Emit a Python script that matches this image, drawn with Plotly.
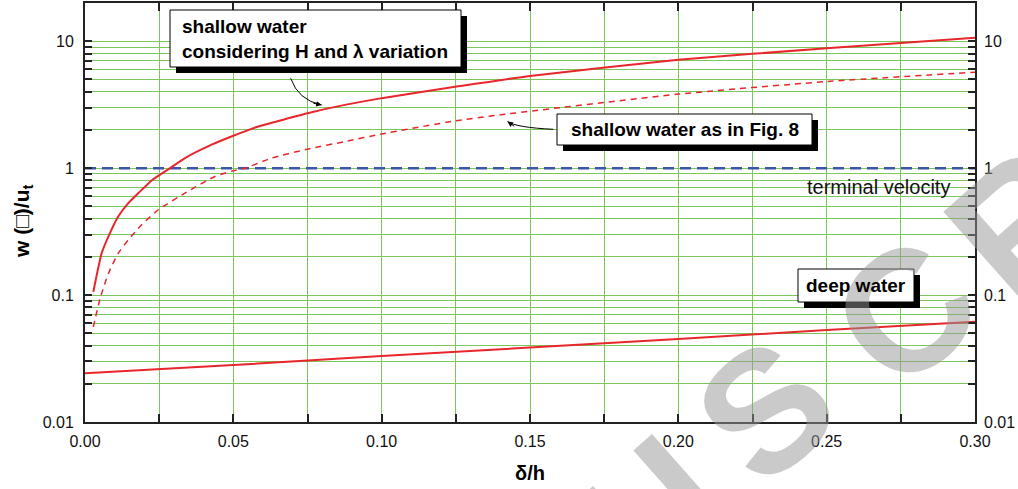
import math
import plotly.graph_objects as go

# ---------------- data ----------------
x_shallow_H = [0.0028, 0.0056, 0.0084, 0.0112, 0.0146, 0.018, 0.0225, 0.0287, 0.0337, 0.0427, 0.05,
               0.0584, 0.0674, 0.075, 0.0876, 0.10, 0.1253, 0.15, 0.20, 0.25, 0.30]
y_shallow_H = [0.106, 0.213, 0.308, 0.416, 0.53, 0.636, 0.80, 1.0, 1.20, 1.53, 1.80,
               2.13, 2.43, 2.71, 3.15, 3.56, 4.39, 5.33, 7.13, 8.81, 10.66]

x_shallow_fig8 = [0.0028, 0.0051, 0.0079, 0.0112, 0.0146, 0.0191, 0.0247, 0.0337, 0.0438, 0.05, 0.054,
                  0.0629, 0.075, 0.0876, 0.10, 0.125, 0.14, 0.20, 0.25, 0.30]
y_shallow_fig8 = [0.056, 0.094, 0.148, 0.213, 0.272, 0.358, 0.47, 0.636, 0.86, 0.953, 1.0,
                  1.20, 1.41, 1.62, 1.86, 2.36, 2.63, 3.83, 4.81, 5.70]

x_deep = [0.0, 0.05, 0.10, 0.15, 0.20, 0.25, 0.30]
y_deep = [0.0242, 0.0281, 0.0331, 0.0385, 0.0451, 0.053, 0.0616]

x_terminal = [0.0, 0.30]
y_terminal = [1.0, 1.0]

x_ticks = [0.0, 0.025, 0.05, 0.075, 0.10, 0.125, 0.15, 0.175, 0.20, 0.225, 0.25, 0.275, 0.30]
x_ticktext = ["0.00", "", "0.05", "", "0.10", "", "0.15", "", "0.20", "", "0.25", "", "0.30"]
y_major = [0.01, 0.1, 1, 10]
y_major_text = ["0.01", "0.1", "1", "10"]

# ---------------- layout geometry ----------------
W, H = 1018, 489
L, R, T, B = 85, 975, 3, 422
PW, PH = R - L, B - T

def px(xp):
    return (xp - L) / PW

def py(yp):
    return (B - yp) / PH

FONT = "Liberation Sans, Arial, Helvetica, sans-serif"
GRID = "#7cc75a"
RED = "#e8262b"
BLUE = "#3d55a8"

# minor log ticks (1..9 per decade) up to 20
y_ticks, y_ticktext = [], []
for e in range(-2, 2):
    for m in range(1, 10):
        v = m * 10 ** e
        y_ticks.append(v)
        y_ticktext.append(y_major_text[y_major.index(v)] if v in y_major else "")
y_ticks.append(20)
y_ticktext.append("")

fig = go.Figure()
fig.add_trace(go.Scatter(x=x_terminal, y=y_terminal, mode="lines",
                         line=dict(color=BLUE, width=2.5, dash="11px,6px"),
                         showlegend=False, hoverinfo="skip"))
fig.add_trace(go.Scatter(x=x_deep, y=y_deep, mode="lines",
                         line=dict(color=RED, width=2), showlegend=False))
fig.add_trace(go.Scatter(x=x_shallow_fig8, y=y_shallow_fig8, mode="lines",
                         line=dict(color=RED, width=1.5, dash="6px,5px", shape="spline", smoothing=0.6),
                         showlegend=False))
fig.add_trace(go.Scatter(x=x_shallow_H, y=y_shallow_H, mode="lines",
                         line=dict(color=RED, width=2, shape="spline", smoothing=0.5),
                         showlegend=False))
# invisible trace to activate right-hand axis
fig.add_trace(go.Scatter(x=[0.1], y=[1], yaxis="y2", mode="markers",
                         marker=dict(opacity=0), showlegend=False, hoverinfo="skip"))

tickfont = dict(family=FONT, size=16, color="#111")

fig.update_layout(
    width=W, height=H,
    margin=dict(l=L, r=W - R, t=T, b=H - B, autoexpand=False),
    paper_bgcolor="white", plot_bgcolor="white",
    xaxis=dict(range=[0, 0.30], tickvals=x_ticks, ticktext=x_ticktext,
               ticks="inside", ticklen=8, tickwidth=1.5, tickcolor="#222",
               showline=True, linewidth=2, linecolor="#222", mirror="ticks",
               showgrid=True, gridcolor=GRID, gridwidth=1, zeroline=False,
               tickfont=tickfont, ticklabelstandoff=4, automargin=False),
    yaxis=dict(type="log", range=[-2, math.log10(20)], tickvals=y_ticks, ticktext=y_ticktext,
               ticks="inside", ticklen=7, tickwidth=1.5, tickcolor="#222",
               showline=True, linewidth=2, linecolor="#222", mirror="ticks",
               showgrid=True, gridcolor=GRID, gridwidth=1, zeroline=False,
               tickfont=tickfont, ticklabelstandoff=6, automargin=False),
    yaxis2=dict(type="log", range=[-2, math.log10(20)], overlaying="y", side="right",
                tickvals=y_major, ticktext=y_major_text, ticks="", showgrid=False,
                showline=False, zeroline=False, tickfont=tickfont, ticklabelstandoff=8,
                automargin=False),
)

shapes = []
annotations = []

# watermark letters
wm_letters = [("U", 652, 512), ("S", 765, 410), ("C", 905, 312), ("R", 1020, 222)]
for ch, cx, cy in wm_letters:
    annotations.append(dict(text=ch, x=px(cx), y=py(cy), xref="paper", yref="paper",
                            xanchor="center", yanchor="middle", showarrow=False, textangle=-41.5,
                            font=dict(family=FONT, size=172, color="rgba(150,150,150,0.5)", weight="bold")))

def box(x0, y0, x1, y1, off=6):
    shapes.append(dict(type="rect", xref="paper", yref="paper",
                       x0=px(x0 + off), x1=px(x1 + off), y0=py(y0 + off), y1=py(y1 + off),
                       fillcolor="black", line=dict(width=0), layer="above"))
    shapes.append(dict(type="rect", xref="paper", yref="paper",
                       x0=px(x0), x1=px(x1), y0=py(y0), y1=py(y1),
                       fillcolor="white", line=dict(color="black", width=1), layer="above"))

box(170, 10, 461, 67)
box(557, 114, 812, 145)
box(798, 269, 914, 302)

boldfont = dict(family=FONT, size=19, color="black", weight="bold")
annotations.append(dict(text="shallow water", x=px(180), y=py(26.5), xref="paper", yref="paper",
                        xanchor="left", yanchor="middle", showarrow=False, font=boldfont))
annotations.append(dict(text="considering H and λ variation", x=px(180), y=py(52), xref="paper", yref="paper",
                        xanchor="left", yanchor="middle", showarrow=False, font=boldfont))
annotations.append(dict(text="shallow water as in Fig. 8", x=px(684.5), y=py(129.5), xref="paper", yref="paper",
                        xanchor="center", yanchor="middle", showarrow=False, font=boldfont))
annotations.append(dict(text="deep water", x=px(856), y=py(285.5), xref="paper", yref="paper",
                        xanchor="center", yanchor="middle", showarrow=False, font=boldfont))
annotations.append(dict(text="terminal velocity", x=px(952), y=py(187), xref="paper", yref="paper",
                        xanchor="right", yanchor="middle", showarrow=False,
                        font=dict(family=FONT, size=20, color="#111")))

# curved leader lines with arrowheads
def curve(p0, c, p1):
    shapes.append(dict(type="path", xref="paper", yref="paper", layer="above",
                       path=f"M {px(p0[0])} {py(p0[1])} Q {px(c[0])} {py(c[1])} {px(p1[0])} {py(p1[1])}",
                       line=dict(color="black", width=1)))
    dx, dy = p1[0] - c[0], p1[1] - c[1]
    n = math.hypot(dx, dy)
    annotations.append(dict(text="", x=px(p1[0]), y=py(p1[1]), xref="paper", yref="paper",
                            showarrow=True, ax=-10 * dx / n, ay=-10 * dy / n,
                            arrowhead=2, arrowsize=1.1, arrowwidth=1, arrowcolor="black", standoff=0))

curve((290.7, 78.3), (298, 100), (321.7, 105))
curve((553.3, 129.3), (516, 127.5), (507.5, 121.5))

# axis titles
annotations.append(dict(text="δ/h", x=px(530), y=py(473), xref="paper", yref="paper",
                        xanchor="center", yanchor="middle", showarrow=False,
                        font=dict(family=FONT, size=20, color="black", weight="bold")))
annotations.append(dict(text="w (□)/u<sub>t</sub>", x=px(23), y=py(221), xref="paper", yref="paper",
                        xanchor="center", yanchor="middle", showarrow=False, textangle=-90,
                        font=dict(family=FONT, size=21, color="black", weight="bold")))

fig.update_layout(shapes=shapes, annotations=annotations)
fig.write_html("out.html", config={"displayModeBar": False},
               post_script="document.body.style.margin='0';document.body.style.padding='0';")
